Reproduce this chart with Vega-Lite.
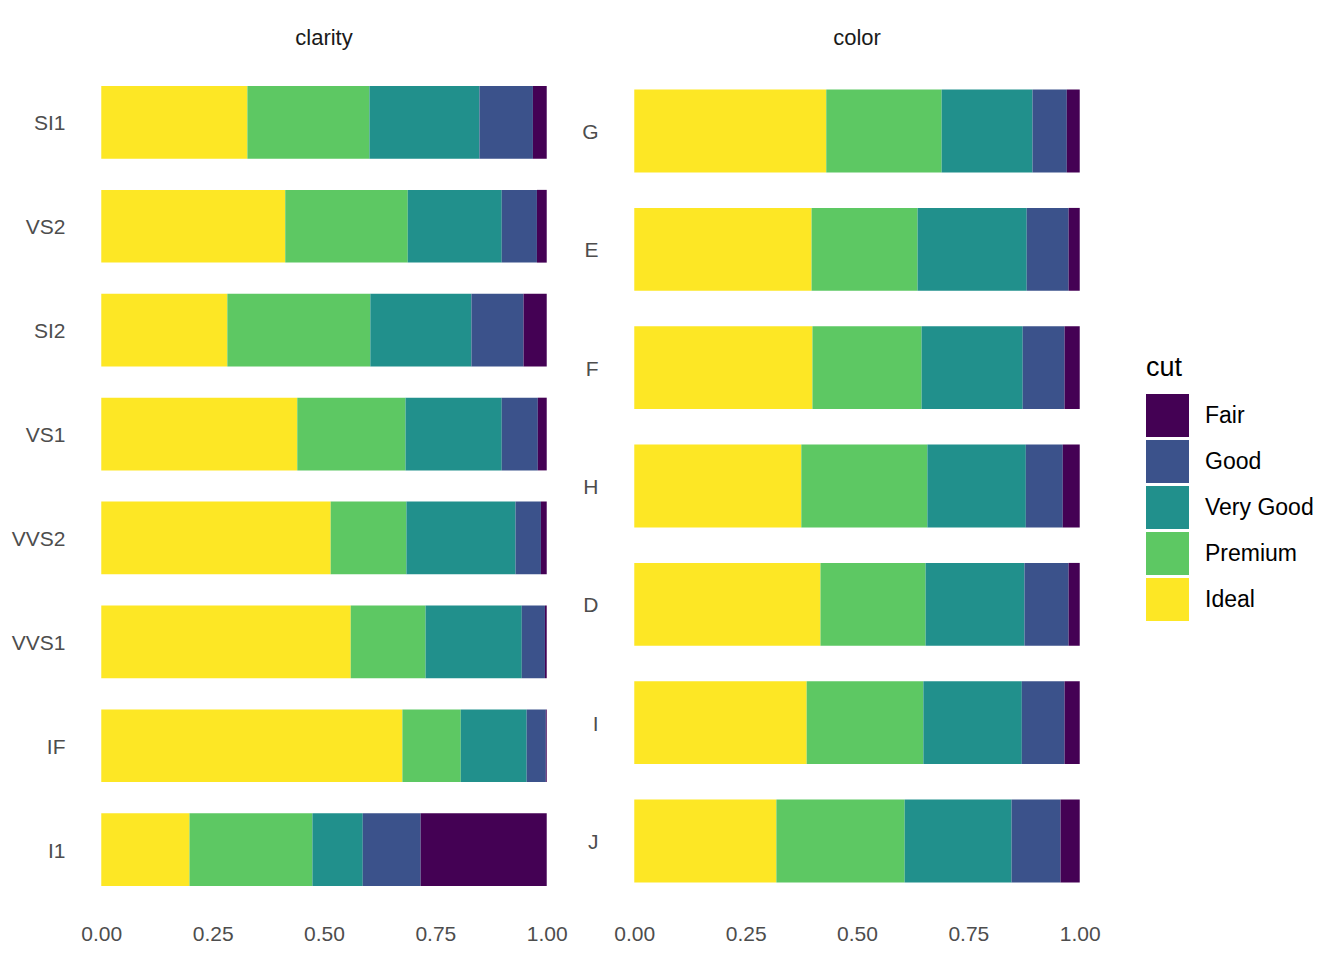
{
  "$schema": "https://vega.github.io/schema/vega-lite/v6.json",
  "background": "white",
  "padding": {"left": 11, "top": 27, "right": 0, "bottom": 0},
  "data": {"values": [
    {"var":"clarity","level":"SI1","ord":1,"cut":"Ideal","crank":5,"p":0.328},
    {"var":"clarity","level":"SI1","ord":1,"cut":"Premium","crank":4,"p":0.274},
    {"var":"clarity","level":"SI1","ord":1,"cut":"Very Good","crank":3,"p":0.247},
    {"var":"clarity","level":"SI1","ord":1,"cut":"Good","crank":2,"p":0.120},
    {"var":"clarity","level":"SI1","ord":1,"cut":"Fair","crank":1,"p":0.031},
    {"var":"clarity","level":"VS2","ord":2,"cut":"Ideal","crank":5,"p":0.413},
    {"var":"clarity","level":"VS2","ord":2,"cut":"Premium","crank":4,"p":0.275},
    {"var":"clarity","level":"VS2","ord":2,"cut":"Very Good","crank":3,"p":0.211},
    {"var":"clarity","level":"VS2","ord":2,"cut":"Good","crank":2,"p":0.079},
    {"var":"clarity","level":"VS2","ord":2,"cut":"Fair","crank":1,"p":0.022},
    {"var":"clarity","level":"SI2","ord":3,"cut":"Ideal","crank":5,"p":0.283},
    {"var":"clarity","level":"SI2","ord":3,"cut":"Premium","crank":4,"p":0.321},
    {"var":"clarity","level":"SI2","ord":3,"cut":"Very Good","crank":3,"p":0.227},
    {"var":"clarity","level":"SI2","ord":3,"cut":"Good","crank":2,"p":0.117},
    {"var":"clarity","level":"SI2","ord":3,"cut":"Fair","crank":1,"p":0.052},
    {"var":"clarity","level":"VS1","ord":4,"cut":"Ideal","crank":5,"p":0.440},
    {"var":"clarity","level":"VS1","ord":4,"cut":"Premium","crank":4,"p":0.243},
    {"var":"clarity","level":"VS1","ord":4,"cut":"Very Good","crank":3,"p":0.216},
    {"var":"clarity","level":"VS1","ord":4,"cut":"Good","crank":2,"p":0.081},
    {"var":"clarity","level":"VS1","ord":4,"cut":"Fair","crank":1,"p":0.020},
    {"var":"clarity","level":"VVS2","ord":5,"cut":"Ideal","crank":5,"p":0.515},
    {"var":"clarity","level":"VVS2","ord":5,"cut":"Premium","crank":4,"p":0.170},
    {"var":"clarity","level":"VVS2","ord":5,"cut":"Very Good","crank":3,"p":0.245},
    {"var":"clarity","level":"VVS2","ord":5,"cut":"Good","crank":2,"p":0.057},
    {"var":"clarity","level":"VVS2","ord":5,"cut":"Fair","crank":1,"p":0.013},
    {"var":"clarity","level":"VVS1","ord":6,"cut":"Ideal","crank":5,"p":0.560},
    {"var":"clarity","level":"VVS1","ord":6,"cut":"Premium","crank":4,"p":0.168},
    {"var":"clarity","level":"VVS1","ord":6,"cut":"Very Good","crank":3,"p":0.216},
    {"var":"clarity","level":"VVS1","ord":6,"cut":"Good","crank":2,"p":0.052},
    {"var":"clarity","level":"VVS1","ord":6,"cut":"Fair","crank":1,"p":0.004},
    {"var":"clarity","level":"IF","ord":7,"cut":"Ideal","crank":5,"p":0.676},
    {"var":"clarity","level":"IF","ord":7,"cut":"Premium","crank":4,"p":0.131},
    {"var":"clarity","level":"IF","ord":7,"cut":"Very Good","crank":3,"p":0.148},
    {"var":"clarity","level":"IF","ord":7,"cut":"Good","crank":2,"p":0.043},
    {"var":"clarity","level":"IF","ord":7,"cut":"Fair","crank":1,"p":0.002},
    {"var":"clarity","level":"I1","ord":8,"cut":"Ideal","crank":5,"p":0.198},
    {"var":"clarity","level":"I1","ord":8,"cut":"Premium","crank":4,"p":0.276},
    {"var":"clarity","level":"I1","ord":8,"cut":"Very Good","crank":3,"p":0.113},
    {"var":"clarity","level":"I1","ord":8,"cut":"Good","crank":2,"p":0.130},
    {"var":"clarity","level":"I1","ord":8,"cut":"Fair","crank":1,"p":0.283},
    {"var":"color","level":"G","ord":1,"cut":"Ideal","crank":5,"p":0.431},
    {"var":"color","level":"G","ord":1,"cut":"Premium","crank":4,"p":0.259},
    {"var":"color","level":"G","ord":1,"cut":"Very Good","crank":3,"p":0.204},
    {"var":"color","level":"G","ord":1,"cut":"Good","crank":2,"p":0.077},
    {"var":"color","level":"G","ord":1,"cut":"Fair","crank":1,"p":0.029},
    {"var":"color","level":"E","ord":2,"cut":"Ideal","crank":5,"p":0.398},
    {"var":"color","level":"E","ord":2,"cut":"Premium","crank":4,"p":0.238},
    {"var":"color","level":"E","ord":2,"cut":"Very Good","crank":3,"p":0.245},
    {"var":"color","level":"E","ord":2,"cut":"Good","crank":2,"p":0.094},
    {"var":"color","level":"E","ord":2,"cut":"Fair","crank":1,"p":0.025},
    {"var":"color","level":"F","ord":3,"cut":"Ideal","crank":5,"p":0.400},
    {"var":"color","level":"F","ord":3,"cut":"Premium","crank":4,"p":0.245},
    {"var":"color","level":"F","ord":3,"cut":"Very Good","crank":3,"p":0.227},
    {"var":"color","level":"F","ord":3,"cut":"Good","crank":2,"p":0.094},
    {"var":"color","level":"F","ord":3,"cut":"Fair","crank":1,"p":0.034},
    {"var":"color","level":"H","ord":4,"cut":"Ideal","crank":5,"p":0.375},
    {"var":"color","level":"H","ord":4,"cut":"Premium","crank":4,"p":0.283},
    {"var":"color","level":"H","ord":4,"cut":"Very Good","crank":3,"p":0.221},
    {"var":"color","level":"H","ord":4,"cut":"Good","crank":2,"p":0.083},
    {"var":"color","level":"H","ord":4,"cut":"Fair","crank":1,"p":0.038},
    {"var":"color","level":"D","ord":5,"cut":"Ideal","crank":5,"p":0.418},
    {"var":"color","level":"D","ord":5,"cut":"Premium","crank":4,"p":0.236},
    {"var":"color","level":"D","ord":5,"cut":"Very Good","crank":3,"p":0.222},
    {"var":"color","level":"D","ord":5,"cut":"Good","crank":2,"p":0.099},
    {"var":"color","level":"D","ord":5,"cut":"Fair","crank":1,"p":0.025},
    {"var":"color","level":"I","ord":6,"cut":"Ideal","crank":5,"p":0.387},
    {"var":"color","level":"I","ord":6,"cut":"Premium","crank":4,"p":0.262},
    {"var":"color","level":"I","ord":6,"cut":"Very Good","crank":3,"p":0.221},
    {"var":"color","level":"I","ord":6,"cut":"Good","crank":2,"p":0.096},
    {"var":"color","level":"I","ord":6,"cut":"Fair","crank":1,"p":0.034},
    {"var":"color","level":"J","ord":7,"cut":"Ideal","crank":5,"p":0.319},
    {"var":"color","level":"J","ord":7,"cut":"Premium","crank":4,"p":0.288},
    {"var":"color","level":"J","ord":7,"cut":"Very Good","crank":3,"p":0.240},
    {"var":"color","level":"J","ord":7,"cut":"Good","crank":2,"p":0.110},
    {"var":"color","level":"J","ord":7,"cut":"Fair","crank":1,"p":0.043}
  ]},
  "facet": {
    "column": {
      "field": "var",
      "type": "nominal",
      "sort": ["clarity", "color"],
      "header": {"title": null}
    }
  },
  "spacing": {"column": 12},
  "spec": {
    "width": 490,
    "height": 852,
    "mark": {"type": "bar"},
    "encoding": {
      "y": {
        "field": "level",
        "type": "nominal",
        "sort": {"field": "ord", "op": "min"},
        "scale": {"paddingInner": 0.3, "paddingOuter": 0.25},
        "axis": {"title": null, "labelBaseline": "middle", "labelOffset": 2}
      },
      "x": {
        "field": "p",
        "type": "quantitative",
        "stack": "normalize",
        "scale": {"domain": [-0.05, 1.05]},
        "axis": {
          "title": null,
          "values": [0, 0.25, 0.5, 0.75, 1],
          "labelExpr": "format(datum.value, '.2f')"
        }
      },
      "color": {
        "field": "cut",
        "type": "nominal",
        "scale": {
          "domain": ["Fair", "Good", "Very Good", "Premium", "Ideal"],
          "range": ["#440154", "#3B528B", "#21908C", "#5DC863", "#FDE725"]
        },
        "legend": {
          "title": "cut",
          "orient": "none",
          "legendX": 1067,
          "legendY": 295
        }
      },
      "order": {"field": "crank", "type": "quantitative", "sort": "descending"}
    }
  },
  "resolve": {"scale": {"y": "independent"}},
  "config": {
    "view": {"stroke": null},
    "font": "Liberation Sans",
    "axis": {
      "grid": false,
      "domain": false,
      "ticks": false,
      "tickSize": 0,
      "labelFont": "Liberation Sans",
      "labelFontSize": 21,
      "labelColor": "#4D4D4D",
      "labelPadding": 14
    },
    "axisX": {"labelPadding": 11},
    "header": {
      "labelFont": "Liberation Sans",
      "labelFontSize": 22,
      "labelColor": "#1A1A1A",
      "labelPadding": 10
    },
    "legend": {
      "titleFont": "Liberation Sans",
      "titleFontSize": 27,
      "titleFontWeight": "normal",
      "titleColor": "#000000",
      "titlePadding": 12,
      "labelFont": "Liberation Sans",
      "labelFontSize": 23,
      "labelColor": "#000000",
      "labelOffset": 16,
      "symbolType": "square",
      "symbolSize": 1849,
      "symbolStrokeWidth": 0,
      "symbolOpacity": 1,
      "rowPadding": 3
    }
  }
}
